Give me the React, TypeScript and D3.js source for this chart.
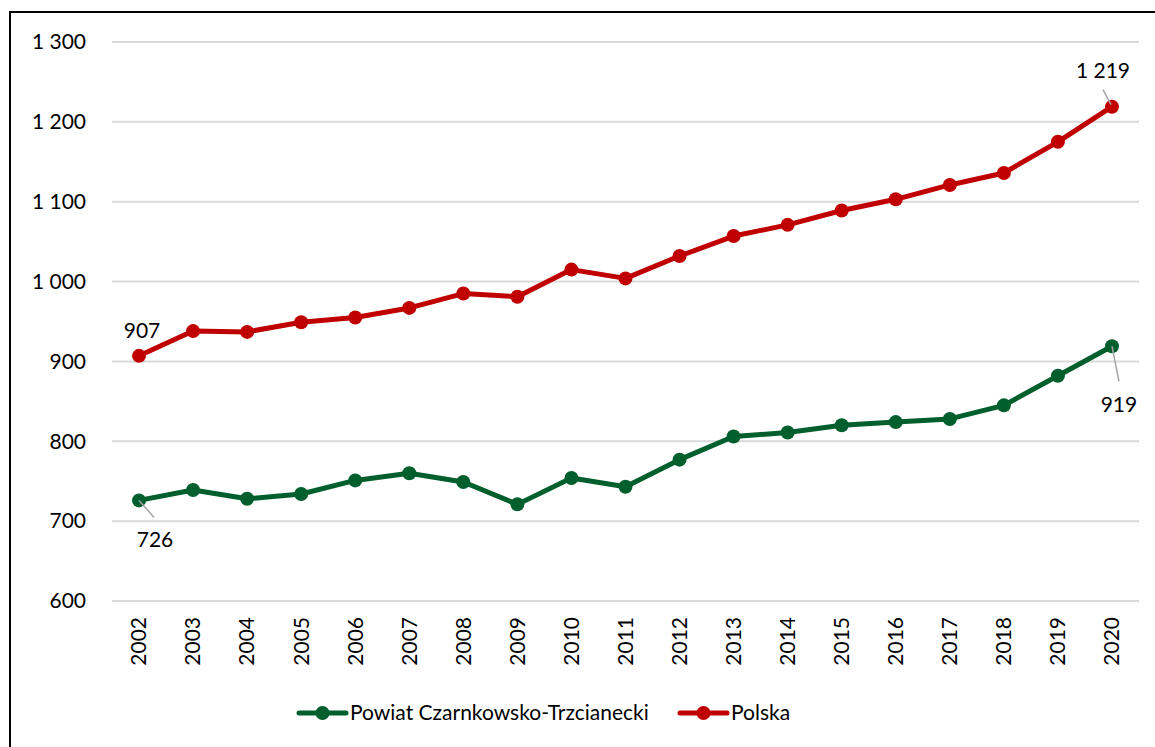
import React from "react";
import * as d3 from "d3";

const years = ["2002","2003","2004","2005","2006","2007","2008","2009","2010","2011","2012","2013","2014","2015","2016","2017","2018","2019","2020"];
const powiat = [726, 739, 728, 734, 751, 760, 749, 721, 754, 743, 777, 806, 811, 820, 824, 828, 845, 882, 919];
const polska = [907, 938, 937, 949, 955, 967, 985, 981, 1015, 1004, 1032, 1057, 1071, 1089, 1103, 1121, 1136, 1175, 1219];
const yTicks = [600, 700, 800, 900, 1000, 1100, 1200, 1300];

const W = 1155;
const H = 747;
const FONT = "Lato, 'Open Sans', sans-serif";
const GREEN = "#005F2C";
const RED = "#C00000";

const fmt = (v: number) => String(v).replace(/\B(?=(\d{3})+(?!\d))/g, " ");

export default function App() {
  const x = d3.scaleBand().domain(years).range([112, 1139]);
  const y = d3.scaleLinear().domain([600, 1300]).range([601, 42]);
  const cx = (yr: string) => (x(yr) as number) + x.bandwidth() / 2;

  const line = d3
    .line<number>()
    .x((_, i) => cx(years[i]))
    .y((d) => y(d));

  const series = [
    { name: "Powiat Czarnkowsko-Trzcianecki", values: powiat, color: GREEN },
    { name: "Polska", values: polska, color: RED },
  ];

  const first = years[0];
  const last = years[years.length - 1];

  return (
    <div style={{ position: "absolute", left: 0, top: 0 }}>
      <svg width={W} height={H} style={{ display: "block", fontFamily: FONT }}>
        <rect x={0} y={0} width={W} height={H} fill="#fff" />
        <rect x={10} y={12} width={W + 20} height={H + 20} fill="none" stroke="#000" strokeWidth={2} />

        {yTicks.map((t) => (
          <g key={t}>
            <line x1={112} x2={1139} y1={y(t)} y2={y(t)} stroke="#d9d9d9" strokeWidth={2} />
            <text x={86} y={y(t)} dy="0.35em" textAnchor="end" fontSize={21} fill="#000">
              {fmt(t)}
            </text>
          </g>
        ))}

        {years.map((yr) => (
          <text
            key={yr}
            transform={`translate(${cx(yr)},${617}) rotate(-90)`}
            textAnchor="end"
            dy="0.35em"
            fontSize={21}
            fill="#000"
          >
            {yr}
          </text>
        ))}

        {series.map((s) => (
          <g key={s.name}>
            <path d={line(s.values) || ""} fill="none" stroke={s.color} strokeWidth={5} strokeLinejoin="round" />
            {s.values.map((v, i) => (
              <circle key={i} cx={cx(years[i])} cy={y(v)} r={7} fill={s.color} />
            ))}
          </g>
        ))}

        {/* data labels */}
        <text x={cx(first) + 3} y={y(polska[0]) - 18} textAnchor="middle" fontSize={21}>
          {fmt(polska[0])}
        </text>
        <line x1={cx(first)} y1={y(powiat[0])} x2={cx(first) + 15} y2={y(powiat[0]) + 17} stroke="#a6a6a6" strokeWidth={1.5} />
        <text x={cx(first) + 16} y={y(powiat[0]) + 47} textAnchor="middle" fontSize={21}>
          {fmt(powiat[0])}
        </text>
        <line x1={cx(last) - 9} y1={y(polska[18]) - 17} x2={cx(last) - 1} y2={y(polska[18]) - 2} stroke="#a6a6a6" strokeWidth={1.5} />
        <text x={cx(last) - 9} y={y(polska[18]) - 29} textAnchor="middle" fontSize={21}>
          {fmt(polska[18])}
        </text>
        <line x1={cx(last)} y1={y(powiat[18])} x2={cx(last) + 7} y2={y(powiat[18]) + 35} stroke="#a6a6a6" strokeWidth={1.5} />
        <text x={cx(last) + 7} y={y(powiat[18]) + 66} textAnchor="middle" fontSize={21}>
          {fmt(powiat[18])}
        </text>

        {/* legend */}
        {[
          { s: series[0], x0: 299 },
          { s: series[1], x0: 680 },
        ].map(({ s, x0 }) => (
          <g key={s.name}>
            <line x1={x0} x2={x0 + 47} y1={713} y2={713} stroke={s.color} strokeWidth={5} strokeLinecap="round" />
            <circle cx={x0 + 23.5} cy={713} r={7} fill={s.color} />
            <text x={x0 + 51} y={713} dy="0.35em" fontSize={21} fill="#000">
              {s.name}
            </text>
          </g>
        ))}
      </svg>
    </div>
  );
}
